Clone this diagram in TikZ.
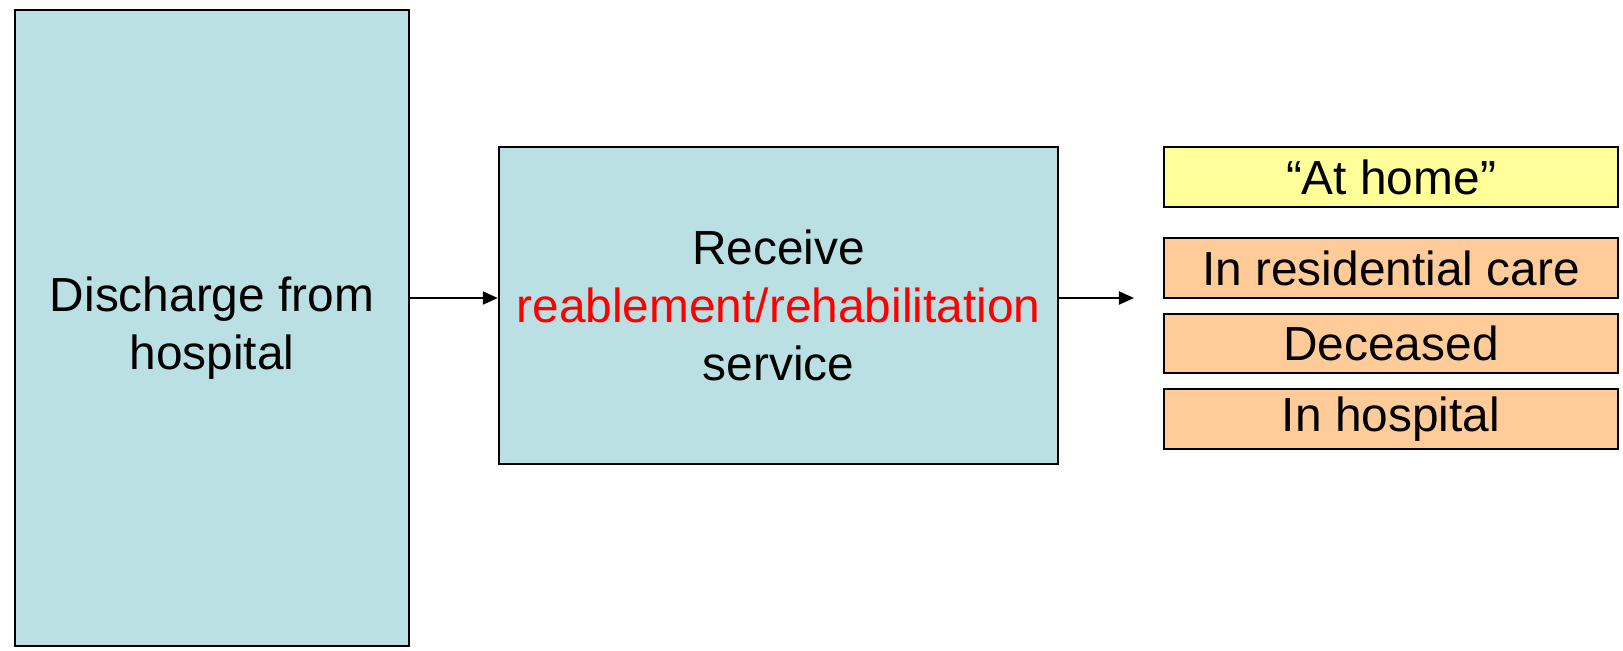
\documentclass[tikz,border=0pt]{standalone}
\usepackage{fontspec}
\setmainfont{Liberation Sans}
\usetikzlibrary{arrows.meta}
\definecolor{boxcyan}{HTML}{BAE0E3}
\definecolor{boxyellow}{HTML}{FFFF99}
\definecolor{boxorange}{HTML}{FFCC99}

\begin{document}
\begin{tikzpicture}[x=0.01cm, y=-0.01cm,
    box/.style={draw=black, line width=0.6pt, inner sep=0pt, align=center,
      font=\fontsize{13.6}{16.5}\selectfont},
    stage/.style={box, fill=boxcyan},
    outcome/.style={box, minimum width=4.54cm, minimum height=0.6cm},
    flow/.style={line width=0.6pt, -{Triangle[length=0.15cm, width=0.13cm]}}]
    \useasboundingbox (0,0) rectangle (1623,650);

    % Discharge
    \node[stage, minimum width=3.94cm, minimum height=6.36cm] (discharge) at (212,328)
        {Discharge from\\hospital};

    % Service
    \node[stage, minimum width=5.59cm, minimum height=3.17cm] (receive) at (778.5,305.5)
        {Receive\\\textcolor{red}{reablement/rehabilitation}\\service};

    % Outcomes
    \node[outcome, fill=boxyellow] (athome) at (1391,177) {“At home”};
    \node[outcome, fill=boxorange] (residential) at (1391,268) {In residential care};
    \node[outcome, fill=boxorange, minimum height=0.59cm] (deceased) at (1391,343.5) {Deceased};
    \node[outcome, fill=boxorange] (inhospital) at (1391,419) {In hospital};

    % Arrows
    \coordinate (mid) at (0,298);
    \coordinate (end) at (1134,298);
    \draw[flow] (discharge.east |- mid) -- (receive.west |- mid);
    \draw[flow] (receive.east |- mid) -- (end);
\end{tikzpicture}
\end{document}
